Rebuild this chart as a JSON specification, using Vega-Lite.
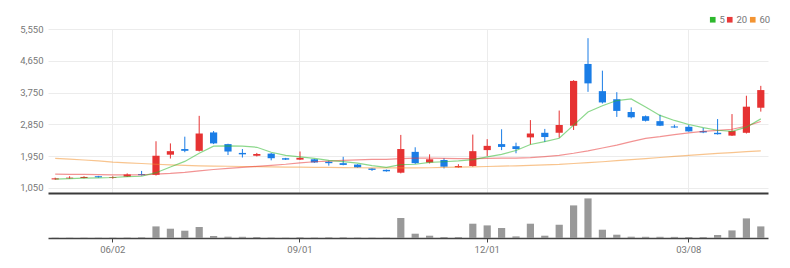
{
  "$schema": "https://vega.github.io/schema/vega-lite/v6.json",
  "autosize": {"type": "none"},
  "padding": {"left": 48, "top": 29, "right": 742, "bottom": 239},
  "bounds": "flush",
  "spacing": 0,
  "config": {
    "view": {"stroke": null},
    "font": "Roboto",
    "axis": {"labelFont": "Roboto", "labelFontSize": 9.5, "labelColor": "#777777"},
    "legend": {"labelFont": "Roboto"}
  },
  "data": {"values": [
    {"i":0,"d":"05/05","o":1290,"h":1340,"l":1280,"c":1320,"v":30000,"m5":1300,"m20":1440,"m60":1885},
    {"i":1,"d":"05/12","o":1320,"h":1380,"l":1310,"c":1340,"v":30000,"m5":1310,"m20":1435,"m60":1865},
    {"i":2,"d":"05/19","o":1330,"h":1380,"l":1320,"c":1360,"v":30000,"m5":1325,"m20":1430,"m60":1840},
    {"i":3,"d":"05/26","o":1380,"h":1390,"l":1340,"c":1350,"v":30000,"m5":1335,"m20":1425,"m60":1815},
    {"i":4,"d":"06/02","o":1330,"h":1380,"l":1310,"c":1350,"v":30000,"m5":1344,"m20":1420,"m60":1780},
    {"i":5,"d":"06/09","o":1370,"h":1460,"l":1360,"c":1430,"v":40000,"m5":1366,"m20":1420,"m60":1760},
    {"i":6,"d":"06/16","o":1440,"h":1530,"l":1400,"c":1410,"v":70000,"m5":1380,"m20":1420,"m60":1740},
    {"i":7,"d":"06/23","o":1420,"h":2370,"l":1400,"c":1960,"v":1160000,"m5":1480,"m20":1440,"m60":1720},
    {"i":8,"d":"06/30","o":1990,"h":2310,"l":1880,"c":2090,"v":930000,"m5":1640,"m20":1460,"m60":1700},
    {"i":9,"d":"07/07","o":2150,"h":2500,"l":2060,"c":2100,"v":730000,"m5":1800,"m20":1490,"m60":1688},
    {"i":10,"d":"07/14","o":2100,"h":3090,"l":2080,"c":2590,"v":1100000,"m5":2030,"m20":1530,"m60":1676},
    {"i":11,"d":"07/21","o":2620,"h":2660,"l":2290,"c":2310,"v":200000,"m5":2230,"m20":1570,"m60":1668},
    {"i":12,"d":"07/28","o":2290,"h":2300,"l":1980,"c":2080,"v":130000,"m5":2240,"m20":1600,"m60":1662},
    {"i":13,"d":"08/04","o":2040,"h":2150,"l":1910,"c":2000,"v":120000,"m5":2230,"m20":1630,"m60":1656},
    {"i":14,"d":"08/11","o":1960,"h":2040,"l":1940,"c":2010,"v":100000,"m5":2200,"m20":1660,"m60":1650},
    {"i":15,"d":"08/18","o":2020,"h":2040,"l":1830,"c":1890,"v":40000,"m5":2060,"m20":1690,"m60":1645},
    {"i":16,"d":"08/25","o":1890,"h":1900,"l":1840,"c":1850,"v":30000,"m5":1970,"m20":1720,"m60":1640},
    {"i":17,"d":"09/01","o":1850,"h":2080,"l":1840,"c":1900,"v":70000,"m5":1930,"m20":1760,"m60":1636},
    {"i":18,"d":"09/08","o":1860,"h":1870,"l":1760,"c":1770,"v":40000,"m5":1885,"m20":1790,"m60":1632},
    {"i":19,"d":"09/15","o":1790,"h":1820,"l":1680,"c":1750,"v":70000,"m5":1830,"m20":1810,"m60":1628},
    {"i":20,"d":"09/22","o":1750,"h":1930,"l":1690,"c":1700,"v":70000,"m5":1795,"m20":1830,"m60":1624},
    {"i":21,"d":"09/29","o":1710,"h":1720,"l":1620,"c":1630,"v":40000,"m5":1750,"m20":1845,"m60":1620},
    {"i":22,"d":"10/06","o":1600,"h":1610,"l":1530,"c":1560,"v":30000,"m5":1680,"m20":1855,"m60":1617},
    {"i":23,"d":"10/13","o":1560,"h":1570,"l":1510,"c":1520,"v":30000,"m5":1630,"m20":1860,"m60":1615},
    {"i":24,"d":"10/20","o":1480,"h":2550,"l":1460,"c":2150,"v":2000000,"m5":1710,"m20":1880,"m60":1615},
    {"i":25,"d":"10/27","o":2070,"h":2200,"l":1730,"c":1750,"v":430000,"m5":1720,"m20":1890,"m60":1617},
    {"i":26,"d":"11/03","o":1770,"h":2000,"l":1740,"c":1860,"v":230000,"m5":1770,"m20":1890,"m60":1620},
    {"i":27,"d":"11/10","o":1840,"h":1890,"l":1600,"c":1650,"v":100000,"m5":1790,"m20":1885,"m60":1628},
    {"i":28,"d":"11/17","o":1630,"h":1720,"l":1620,"c":1670,"v":100000,"m5":1815,"m20":1880,"m60":1636},
    {"i":29,"d":"11/24","o":1670,"h":2560,"l":1650,"c":2090,"v":1430000,"m5":1850,"m20":1880,"m60":1645},
    {"i":30,"d":"12/01","o":2120,"h":2430,"l":1950,"c":2240,"v":1260000,"m5":1930,"m20":1885,"m60":1655},
    {"i":31,"d":"12/08","o":2290,"h":2710,"l":2120,"c":2210,"v":1000000,"m5":2000,"m20":1890,"m60":1665},
    {"i":32,"d":"12/15","o":2230,"h":2330,"l":2030,"c":2150,"v":160000,"m5":2110,"m20":1895,"m60":1675},
    {"i":33,"d":"12/22","o":2480,"h":2970,"l":2280,"c":2590,"v":1430000,"m5":2280,"m20":1905,"m60":1690},
    {"i":34,"d":"12/29","o":2610,"h":2720,"l":2350,"c":2490,"v":230000,"m5":2360,"m20":1935,"m60":1700},
    {"i":35,"d":"01/05","o":2610,"h":3240,"l":2470,"c":2830,"v":1330000,"m5":2454,"m20":1970,"m60":1715},
    {"i":36,"d":"01/12","o":2810,"h":4100,"l":2690,"c":4080,"v":3260000,"m5":2828,"m20":2030,"m60":1740},
    {"i":37,"d":"01/19","o":4560,"h":5290,"l":3770,"c":4010,"v":3960000,"m5":3200,"m20":2100,"m60":1765},
    {"i":38,"d":"01/26","o":3790,"h":4370,"l":3440,"c":3470,"v":830000,"m5":3376,"m20":2180,"m60":1790},
    {"i":39,"d":"02/02","o":3560,"h":3760,"l":3060,"c":3230,"v":330000,"m5":3524,"m20":2260,"m60":1820},
    {"i":40,"d":"02/09","o":3200,"h":3330,"l":3020,"c":3050,"v":130000,"m5":3568,"m20":2360,"m60":1850},
    {"i":41,"d":"02/16","o":3080,"h":3100,"l":2930,"c":2950,"v":120000,"m5":3342,"m20":2450,"m60":1880},
    {"i":42,"d":"02/23","o":2940,"h":3120,"l":2800,"c":2810,"v":120000,"m5":3102,"m20":2500,"m60":1910},
    {"i":43,"d":"03/02","o":2790,"h":2840,"l":2750,"c":2760,"v":110000,"m5":2960,"m20":2560,"m60":1940},
    {"i":44,"d":"03/08","o":2780,"h":2830,"l":2640,"c":2650,"v":100000,"m5":2844,"m20":2610,"m60":1970},
    {"i":45,"d":"03/16","o":2660,"h":2750,"l":2600,"c":2620,"v":100000,"m5":2758,"m20":2650,"m60":2000},
    {"i":46,"d":"03/23","o":2610,"h":3000,"l":2560,"c":2570,"v":300000,"m5":2682,"m20":2680,"m60":2025},
    {"i":47,"d":"03/30","o":2530,"h":3140,"l":2520,"c":2660,"v":760000,"m5":2652,"m20":2710,"m60":2050},
    {"i":48,"d":"04/06","o":2610,"h":3660,"l":2590,"c":3350,"v":1960000,"m5":2770,"m20":2800,"m60":2075},
    {"i":49,"d":"04/13","o":3320,"h":3940,"l":3210,"c":3820,"v":1160000,"m5":3004,"m20":2930,"m60":2100}
  ]},
  "vconcat": [
    {
      "width": 720,
      "height": 164,
      "encoding": {
        "x": {
          "field": "i", "type": "ordinal",
          "scale": {"paddingInner": 0.5, "paddingOuter": 0.25},
          "axis": {"values": [4, 17, 30, 44], "labels": false, "ticks": false, "grid": true, "gridColor": "#ececec", "domainColor": "#3a3a3a", "domainWidth": 2, "title": null, "bandPosition": 0.5}
        }
      },
      "layer": [
        {
          "mark": {"type": "rule", "strokeWidth": 1},
          "encoding": {
            "y": {"field": "l", "type": "quantitative", "scale": {"domain": [905, 5550], "nice": false, "zero": false},
                  "axis": {"values": [1050, 1950, 2850, 3750, 4650, 5550], "format": ",.0f", "ticks": false, "domain": false, "gridColor": "#ececec", "labelPadding": 5, "title": null}},
            "y2": {"field": "h"},
            "color": {"condition": {"test": "datum.c > datum.o", "value": "#e63232"}, "value": "#1a7de6"}
          }
        },
        {
          "mark": {"type": "bar"},
          "encoding": {
            "y": {"field": "o", "type": "quantitative", "scale": {"domain": [905, 5550], "nice": false, "zero": false},
                  "axis": {"values": [1050, 1950, 2850, 3750, 4650, 5550], "format": ",.0f", "ticks": false, "domain": false, "gridColor": "#ececec", "labelPadding": 5, "title": null}},
            "y2": {"field": "c"},
            "color": {"condition": {"test": "datum.c > datum.o", "value": "#e63232"}, "value": "#1a7de6"}
          }
        },
        {
          "mark": {"type": "line", "strokeWidth": 1.2, "opacity": 0.55},
          "encoding": {
            "y": {"field": "m60", "type": "quantitative", "scale": {"domain": [905, 5550], "nice": false, "zero": false},
                  "axis": {"values": [1050, 1950, 2850, 3750, 4650, 5550], "format": ",.0f", "ticks": false, "domain": false, "gridColor": "#ececec", "labelPadding": 5, "title": null}},
            "color": {"datum": "60", "type": "nominal",
              "scale": {"domain": ["5", "20", "60"], "range": ["#2db82d", "#e83a3a", "#f39432"]},
              "legend": {"orient": "none", "legendX": 660, "legendY": -14, "direction": "horizontal", "title": null, "symbolType": "square", "symbolSize": 7, "symbolStrokeWidth": 3, "symbolOpacity": 1, "labelFontSize": 9.5, "labelColor": "#777777", "labelOffset": 2, "columnPadding": -3, "padding": 0, "gridAlign": "none",
                "encode": {"symbols": {"update": {"opacity": {"value": 1}, "strokeOpacity": {"value": 1}}}}}}
          }
        },
        {
          "mark": {"type": "line", "strokeWidth": 1.2, "opacity": 0.55},
          "encoding": {
            "y": {"field": "m20", "type": "quantitative", "scale": {"domain": [905, 5550], "nice": false, "zero": false},
                  "axis": {"values": [1050, 1950, 2850, 3750, 4650, 5550], "format": ",.0f", "ticks": false, "domain": false, "gridColor": "#ececec", "labelPadding": 5, "title": null}},
            "color": {"datum": "20", "type": "nominal"}
          }
        },
        {
          "mark": {"type": "line", "strokeWidth": 1.2, "opacity": 0.55},
          "encoding": {
            "y": {"field": "m5", "type": "quantitative", "scale": {"domain": [905, 5550], "nice": false, "zero": false},
                  "axis": {"values": [1050, 1950, 2850, 3750, 4650, 5550], "format": ",.0f", "ticks": false, "domain": false, "gridColor": "#ececec", "labelPadding": 5, "title": null}},
            "color": {"datum": "5", "type": "nominal"}
          }
        }
      ]
    },
    {
      "width": 720,
      "height": 45,
      "mark": {"type": "bar", "color": "#999999"},
      "encoding": {
        "x": {
          "field": "i", "type": "ordinal",
          "scale": {"paddingInner": 0.5, "paddingOuter": 0.25},
          "axis": {"values": [4, 17, 30, 44], "labelExpr": "datum.value == 4 ? '06/02' : datum.value == 17 ? '09/01' : datum.value == 30 ? '12/01' : '03/08'", "grid": false, "ticks": true, "tickColor": "#444444", "tickSize": 4, "domainColor": "#444444", "domainWidth": 1.5, "labelPadding": 2, "labelAngle": 0, "title": null, "bandPosition": 0.5}
        },
        "y": {"field": "v", "type": "quantitative", "scale": {"domain": [0, 4500000]}, "axis": null}
      }
    }
  ]
}
